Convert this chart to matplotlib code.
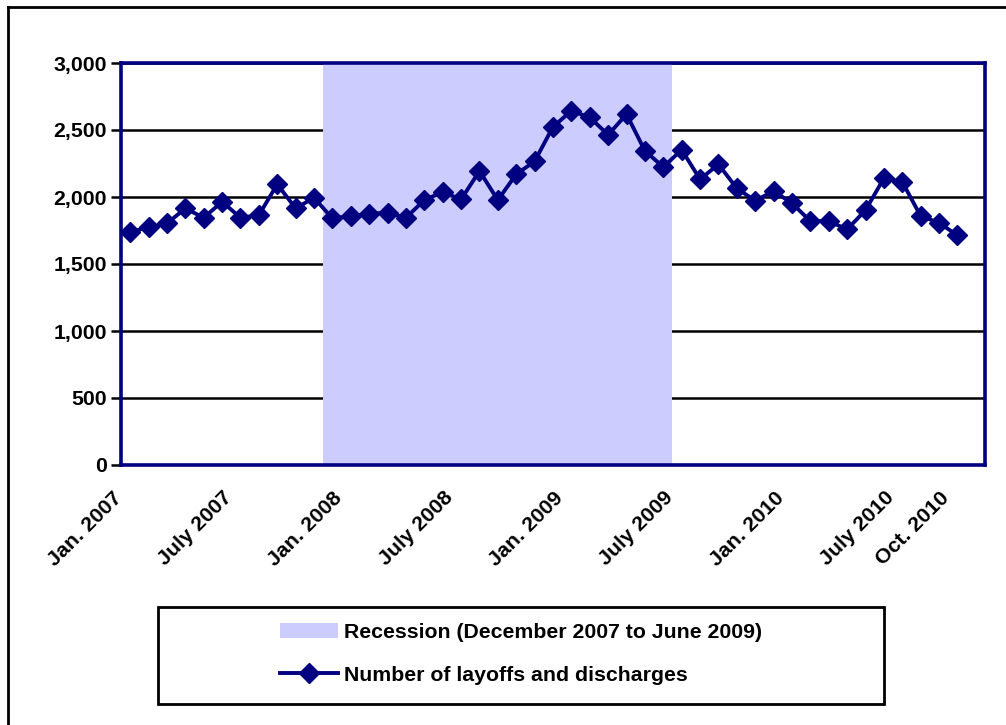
import numpy as np
import pandas as pd
import matplotlib
matplotlib.use("Agg")
import matplotlib.pyplot as plt
import matplotlib.transforms as mtransforms
from matplotlib.lines import Line2D
from matplotlib.patches import Patch, Rectangle
from matplotlib.ticker import FuncFormatter

plt.rcParams['font.family'] = ['Liberation Sans', 'DejaVu Sans']
plt.rcParams['font.weight'] = 'bold'

# Monthly layoffs and discharges (thousands), Jan. 2007 - Oct. 2010
months = pd.date_range('2007-01-01', periods=46, freq='MS')
layoffs = [1738, 1775, 1803, 1915, 1845, 1965, 1845, 1865, 2095, 1915, 1995, 1840,
           1858, 1875, 1883, 1845, 1977, 2037, 1982, 2194, 1977, 2170, 2266, 2524,
           2643, 2594, 2464, 2618, 2344, 2224, 2352, 2132, 2244, 2065, 1972, 2045,
           1953, 1820, 1820, 1758, 1902, 2140, 2112, 1858, 1808, 1713]
recession_start = pd.Timestamp('2007-12-01')
recession_end = pd.Timestamp('2009-06-01')
tick_months = ['2007-01', '2007-07', '2008-01', '2008-07', '2009-01',
               '2009-07', '2010-01', '2010-07', '2010-10']
tick_labels = ['Jan. 2007', 'July 2007', 'Jan. 2008', 'July 2008', 'Jan. 2009',
               'July 2009', 'Jan. 2010', 'July 2010', 'Oct. 2010']

navy = '#000080'
fs = 15.3
x = np.arange(len(months))
in_recession = (months >= recession_start) & (months <= recession_end)

fig = plt.figure(figsize=(10.06, 7.25), dpi=100)
ax = fig.add_axes([121 / 1006, 1 - 465 / 725, 864 / 1006, 402 / 725])

ax.bar(x[in_recession], 3000, width=1.0, color='#CCCCFF', zorder=2,
       label='Recession (December 2007 to June 2009)')
ax.plot(x, layoffs, color=navy, lw=2.8, marker='D', ms=10, zorder=3,
        label='Number of layoffs and discharges')

ax.set_xlim(-0.5, 46.5)
ax.set_ylim(0, 3000)
ax.set_yticks(np.arange(0, 3001, 500))
ax.yaxis.set_major_formatter(FuncFormatter(lambda v, p: f'{int(v):,}'))
ax.grid(axis='y', color='black', lw=1.8, zorder=1)
ax.set_axisbelow(True)

tick_pos = [months.get_loc(pd.Timestamp(m)) for m in tick_months]
ax.set_xticks(tick_pos)
ax.set_xticklabels(tick_labels, rotation=45, ha='right', va='top',
                   rotation_mode='anchor')
ax.tick_params(axis='x', length=0, pad=8, labelsize=fs)
ax.tick_params(axis='y', length=7, width=1.8, pad=3, labelsize=fs, color='black')

# nudge the slanted month labels left/down
shift = mtransforms.ScaledTranslation(-18 / 100, -12 / 100, fig.dpi_scale_trans)
for lbl in ax.get_xticklabels():
    lbl.set_transform(lbl.get_transform() + shift)

for s in ax.spines.values():
    s.set_color(navy)
    s.set_linewidth(2.6)
    s.set_zorder(4)

# legend box
fig.add_artist(Rectangle((158 / 1006, 1 - 704 / 725), 726 / 1006, 97 / 725,
                         transform=fig.transFigure, fill=False,
                         edgecolor='black', lw=2))
handles = [Patch(facecolor='#CCCCFF', edgecolor='none'),
           Line2D([], [], color=navy, lw=2.8, marker='D', ms=10)]
fig.legend(handles, ['Recession (December 2007 to June 2009)',
                     'Number of layoffs and discharges'],
           loc='center', bbox_to_anchor=(521 / 1006, 1 - 654 / 725),
           frameon=False, fontsize=fs, handlelength=2.7,
           handletextpad=0.3, labelspacing=1.1)

# outer frame
fig.add_artist(Line2D([8 / 1006, 8 / 1006], [0, 1 - 7 / 725],
                      transform=fig.transFigure, color='black', lw=2))
fig.add_artist(Line2D([8 / 1006, 1], [1 - 7 / 725, 1 - 7 / 725],
                      transform=fig.transFigure, color='black', lw=2))

fig.savefig('out.png', dpi=100)
